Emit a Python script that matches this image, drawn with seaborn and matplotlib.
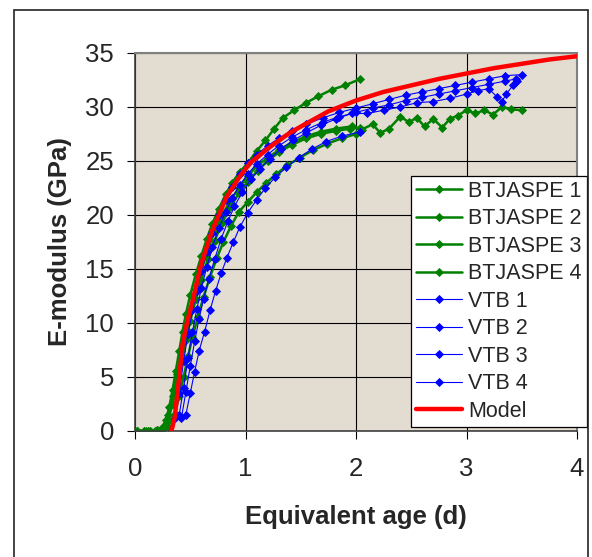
import numpy as np
import pandas as pd
import matplotlib
matplotlib.use('Agg')
import matplotlib.pyplot as plt
from matplotlib.patches import Rectangle
import seaborn as sns

# E-modulus vs equivalent age
bt1_age = [0.02, 0.08, 0.14, 0.20, 0.25, 0.28, 0.31, 0.34, 0.37, 0.40, 0.43, 0.46, 0.50, 0.55, 0.60, 0.65,
           0.70, 0.76, 0.82, 0.88, 0.95, 1.02, 1.10, 1.18, 1.26, 1.34, 1.44, 1.55, 1.66, 1.78, 1.90, 2.04]
bt1_e = [0.0, 0.0, 0.0, 0.1, 0.4, 1.0, 2.2, 3.8, 5.6, 7.4, 9.2, 10.8, 12.6, 14.5, 16.2, 17.8,
         19.2, 20.6, 21.9, 23.0, 24.0, 24.8, 25.9, 26.9, 28.0, 29.0, 29.7, 30.4, 31.0, 31.6, 32.0, 32.6]

bt2_age = [0.02, 0.08, 0.14, 0.20, 0.26, 0.30, 0.34, 0.38, 0.42, 0.46, 0.50, 0.55, 0.60, 0.66, 0.72, 0.79,
           0.86, 0.94, 1.02, 1.10, 1.20, 1.30, 1.42, 1.55, 1.68, 1.82, 1.96, 2.05, 2.15, 2.22, 2.30, 2.40,
           2.48, 2.55, 2.62, 2.70, 2.78, 2.85, 2.92, 3.00, 3.08, 3.16, 3.24, 3.32, 3.40, 3.50]
bt2_e = [0.0, 0.0, 0.0, 0.1, 0.5, 1.5, 3.2, 5.3, 7.4, 9.4, 11.2, 13.1, 14.9, 16.8, 18.5, 20.0,
         21.3, 22.5, 23.6, 24.5, 25.3, 26.0, 26.7, 27.3, 27.7, 28.0, 28.2, 27.9, 28.4, 27.6, 28.0, 29.1,
         28.6, 29.0, 28.2, 28.9, 28.1, 28.9, 29.2, 29.7, 29.4, 29.7, 29.3, 30.0, 29.8, 29.7]

bt3_age = [0.02, 0.10, 0.18, 0.25, 0.30, 0.34, 0.38, 0.42, 0.46, 0.50, 0.55, 0.60, 0.66, 0.72, 0.79, 0.86,
           0.94, 1.02, 1.11, 1.20, 1.30, 1.42, 1.55, 1.68, 1.82, 1.95, 2.04]
bt3_e = [0.0, 0.0, 0.0, 0.2, 1.0, 2.5, 4.4, 6.4, 8.4, 10.2, 12.2, 14.0, 15.9, 17.6, 19.3, 20.7,
         22.0, 23.1, 24.1, 25.0, 25.8, 26.5, 27.1, 27.5, 27.8, 28.0, 28.1]

bt4_age = [0.02, 0.12, 0.22, 0.30, 0.36, 0.40, 0.44, 0.48, 0.52, 0.57, 0.62, 0.68, 0.74, 0.80, 0.87, 0.94,
           1.02, 1.10, 1.19, 1.28, 1.38, 1.49, 1.61, 1.74, 1.87, 2.00]
bt4_e = [0.0, 0.0, 0.0, 0.4, 1.6, 3.2, 5.0, 6.9, 8.7, 10.6, 12.4, 14.3, 16.0, 17.5, 19.0, 20.3,
         21.2, 22.1, 23.0, 23.8, 24.6, 25.3, 26.0, 26.6, 27.1, 27.5]

vtb1_age = [0.36, 0.40, 0.44, 0.48, 0.52, 0.56, 0.60, 0.65, 0.70, 0.76, 0.82, 0.88, 0.95, 1.02, 1.10, 1.20,
            1.30, 1.42, 1.55, 1.70, 1.85, 2.00, 2.15, 2.30, 2.45, 2.60, 2.75, 2.90, 3.05, 3.20, 3.35, 3.50]
vtb1_e = [1.2, 3.5, 6.5, 9.0, 11.2, 13.0, 14.8, 16.6, 18.3, 20.0, 21.4, 22.6, 23.8, 24.8, 25.6, 26.4,
          27.1, 27.8, 28.4, 29.0, 29.5, 29.9, 30.3, 30.7, 31.1, 31.4, 31.7, 32.0, 32.3, 32.6, 32.9, 33.0]

vtb2_age = [0.40, 0.44, 0.48, 0.52, 0.56, 0.60, 0.65, 0.70, 0.76, 0.82, 0.88, 0.95, 1.02, 1.10, 1.20, 1.30,
            1.42, 1.55, 1.70, 1.85, 2.00, 2.15, 2.30, 2.45, 2.60, 2.75, 2.90, 3.05, 3.20, 3.35, 3.45]
vtb2_e = [1.5, 4.0, 6.8, 9.2, 11.3, 13.2, 15.2, 17.0, 18.8, 20.3, 21.6, 22.8, 23.8, 24.7, 25.6, 26.4,
          27.2, 27.9, 28.6, 29.1, 29.5, 29.9, 30.2, 30.6, 30.9, 31.2, 31.5, 31.8, 32.1, 32.4, 32.6]

vtb3_age = [0.46, 0.50, 0.54, 0.58, 0.63, 0.68, 0.73, 0.78, 0.83, 0.89, 0.95, 1.02, 1.10, 1.18, 1.27, 1.37,
            1.48, 1.60, 1.73, 1.87, 2.04]
vtb3_e = [1.5, 3.5, 5.5, 7.4, 9.2, 11.2, 13.0, 14.6, 16.0, 17.5, 18.9, 20.2, 21.4, 22.5, 23.5, 24.4,
          25.3, 26.1, 26.8, 27.3, 27.7]

vtb4_age = [0.42, 0.46, 0.50, 0.54, 0.58, 0.62, 0.67, 0.72, 0.78, 0.84, 0.90, 0.97, 1.05, 1.13, 1.22, 1.32,
            1.43, 1.55, 1.68, 1.82, 1.96, 2.10, 2.25, 2.40, 2.55, 2.70, 2.85, 3.00, 3.10, 3.20, 3.28, 3.32,
            3.36, 3.42, 3.46]
vtb4_e = [1.2, 3.6, 6.0, 8.3, 10.4, 12.2, 14.1, 15.9, 17.8, 19.4, 20.8, 22.1, 23.3, 24.3, 25.2, 26.1,
          26.9, 27.6, 28.3, 28.9, 29.4, 29.4, 29.7, 30.0, 30.4, 30.5, 30.8, 31.2, 31.5, 31.7, 30.9, 30.5,
          31.2, 32.0, 32.4]

model_age = [0.33, 0.36, 0.40, 0.43, 0.47, 0.53, 0.60, 0.70, 0.83, 0.95, 1.04, 1.22, 1.40, 1.52, 1.75, 2.00,
             2.25, 2.50, 2.75, 3.00, 3.25, 3.50, 3.75, 4.00]
model_e = [0.0, 1.3, 5.0, 8.0, 10.0, 12.4, 15.5, 18.6, 21.7, 23.6, 24.8, 26.3, 27.6, 28.3, 29.6, 30.6,
           31.4, 32.0, 32.6, 33.1, 33.6, 34.0, 34.4, 34.7]

series = [
    ('BTJASPE 1', bt1_age, bt1_e),
    ('BTJASPE 2', bt2_age, bt2_e),
    ('BTJASPE 3', bt3_age, bt3_e),
    ('BTJASPE 4', bt4_age, bt4_e),
    ('VTB 1', vtb1_age, vtb1_e),
    ('VTB 2', vtb2_age, vtb2_e),
    ('VTB 3', vtb3_age, vtb3_e),
    ('VTB 4', vtb4_age, vtb4_e),
]

sns.set_style('white')
plt.rcParams['font.family'] = ['Liberation Sans', 'DejaVu Sans']

fig = plt.figure(figsize=(5.92, 5.57), dpi=100)
ax = fig.add_axes([135 / 592, 1 - 431 / 557, 442 / 592, 378 / 557])
ax.set_facecolor('#e2dcd1')

for name, age, e in series:
    df = pd.DataFrame({'age': age, 'E': e})
    if name.startswith('BTJASPE'):
        sns.lineplot(data=df, x='age', y='E', ax=ax, sort=False, estimator=None, color='#008000',
                     lw=1.8, marker='D', markersize=3.8, markeredgewidth=0.6, markeredgecolor='#008000',
                     label=name)
    else:
        sns.lineplot(data=df, x='age', y='E', ax=ax, sort=False, estimator=None, color='#0000ff',
                     lw=0.8, marker='D', markersize=3.8, markeredgewidth=0.6, markeredgecolor='#0000ff',
                     label=name)

model_df = pd.DataFrame({'age': model_age, 'E': model_e})
sns.lineplot(data=model_df, x='age', y='E', ax=ax, sort=False, estimator=None, color='#ff0000',
             lw=3.2, label='Model', zorder=3)

ax.set_xlim(0, 4)
ax.set_ylim(0, 35)
ax.set_xticks([0, 1, 2, 3, 4])
ax.set_yticks(range(0, 36, 5))
ax.grid(True, color='black', lw=0.8)
ax.set_axisbelow(True)
for side in ['top', 'right']:
    ax.spines[side].set_color('#808080')
    ax.spines[side].set_linewidth(1.5)
for side in ['left', 'bottom']:
    ax.spines[side].set_color('#404040')
    ax.spines[side].set_linewidth(1.2)
ax.tick_params(axis='both', direction='out', length=6, width=0.8, color='black', labelsize=18.5)
ax.tick_params(axis='x', pad=13, bottom=True)
ax.tick_params(axis='y', pad=9, left=True)

ax.set_xlabel('Equivalent age (d)', fontsize=18.5, fontweight='bold', labelpad=17)
ax.set_ylabel('E-modulus (GPa)', fontsize=18.5, fontweight='bold', labelpad=10)

leg = ax.legend(loc='lower right', bbox_to_anchor=(587 / 592, 1 - 427 / 557),
                bbox_transform=fig.transFigure, fontsize=15.5, frameon=True, fancybox=False,
                edgecolor='black', framealpha=1, borderpad=0.25, labelspacing=0.3,
                handlelength=2.1, handletextpad=0.3, borderaxespad=0)
leg.get_frame().set_linewidth(0.9)

# outer chart border
fig.patches.append(Rectangle((14 / 592, -0.05), 574 / 592, 1.05 - 10 / 557, transform=fig.transFigure,
                             fill=False, edgecolor='#222222', lw=1.2))

fig.savefig('out.png', dpi=100)
